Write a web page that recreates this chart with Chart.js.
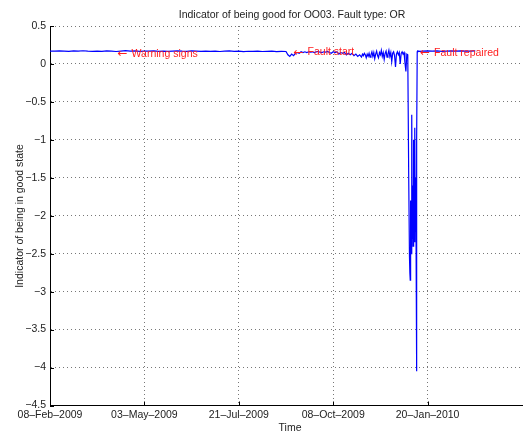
<!DOCTYPE html>
<html>
<head>
<meta charset="utf-8">
<script src="https://cdn.jsdelivr.net/npm/chart.js@4"></script>
<style>
  html, body { margin: 0; padding: 0; background: #fff; overflow: hidden; }
  canvas { display: block; }
</style>
</head>
<body>
<canvas id="graph1" width="525" height="437"></canvas>
<script>
// tick labels of the time axis (one per unit on x)
var xTickLabels = ["08\u2013Feb\u20132009", "03\u2013May\u20132009", "21\u2013Jul\u20132009", "08\u2013Oct\u20132009", "20\u2013Jan\u20132010"];

// time position (in tick units) and indicator value
var timeIdx = [
  0,0.05,0.1,0.15,0.2,0.25,0.3,0.35,0.4,0.45,0.5,0.55,0.6,0.65,0.7,0.75,0.8,0.85,0.9,0.95,
  1,1.05,1.1,1.15,1.2,1.25,1.3,1.35,1.4,1.45,1.5,1.55,1.6,1.65,1.7,1.75,1.8,1.85,1.9,1.95,
  2,2.05,2.1,2.15,2.2,2.25,2.3,2.35,2.4,2.45,2.5,
  2.52,2.54,2.56,2.58,2.6,2.62,2.64,2.66,2.68,2.7,2.72,2.74,2.76,2.78,2.8,2.82,2.84,2.86,2.88,2.9,
  2.92,2.94,2.96,2.98,3,3.02,3.04,3.06,3.08,3.1,3.12,3.14,3.16,3.18,3.2,3.22,3.24,3.26,3.28,
  3.3,3.31,3.32,3.33,3.34,3.35,3.36,3.37,3.38,3.39,3.4,3.41,3.42,3.43,3.44,3.45,3.46,3.47,3.48,3.49,
  3.5,3.51,3.52,3.53,3.54,3.55,3.56,3.57,3.58,3.59,3.6,3.61,3.62,3.63,3.64,3.65,3.66,3.67,3.68,3.69,
  3.7,3.71,3.72,3.73,3.74,3.75,3.76,3.77,3.78,3.79,
  3.8,3.808,3.812,3.816,3.818,3.822,3.826,3.83,3.834,3.838,3.842,3.846,3.85,3.854,3.858,3.862,
  3.866,3.87,3.874,3.878,3.882,3.886,3.89,3.894,
  3.92,3.95,4,4.05,4.1,4.15,4.2,4.25,4.3,4.35,4.4,4.45,4.505
];
var indicator = [
  0.17,0.168,0.172,0.17,0.166,0.171,0.169,0.174,0.168,0.165,0.17,0.167,0.172,0.169,0.164,0.17,0.175,0.168,0.171,0.166,
  0.17,0.168,0.173,0.167,0.17,0.165,0.169,0.172,0.168,0.166,0.171,0.168,0.165,0.17,0.167,0.169,0.164,0.168,0.171,0.166,
  0.168,0.163,0.167,0.165,0.169,0.164,0.166,0.168,0.163,0.166,0.164,
  0.12,0.10,0.13,0.11,0.14,0.15,0.14,0.16,0.15,0.16,0.15,0.16,0.155,0.16,0.15,0.16,0.165,0.155,0.15,0.16,
  0.155,0.165,0.15,0.14,0.16,0.15,0.16,0.13,0.15,0.14,0.15,0.12,0.14,0.12,0.14,0.11,0.13,0.10,0.12,
  0.09,0.13,0.11,0.14,0.12,0.08,0.13,0.10,0.14,0.09,0.12,0.16,0.10,0.15,0.07,0.13,0.17,0.11,0.08,0.15,
  0.12,0.18,0.10,0.15,0.06,0.14,0.17,0.09,0.13,0.18,0.10,0.15,0.03,0.14,0.16,0.11,-0.04,0.13,0.16,0.12,
  0.15,0.00,0.14,0.16,0.13,0.15,0.02,-0.10,0.13,0.12,
  -1.5,-2.54,-2.75,-2.85,-2.4,-1.8,-2.5,-0.9,-0.67,-2.3,-1.6,-2.4,-1.0,-2.3,-1.8,-2.35,
  -0.84,-2.2,-1.5,-2.4,-4.05,-1.0,0.16,0.17,
  0.165,0.17,0.172,0.168,0.171,0.167,0.17,0.173,0.169,0.171,0.168,0.17,0.171
];

// red text notes: arrow tip position and text
var noteX = [0.716, 2.58, 3.92];
var noteY = [0.13, 0.15, 0.14];
var noteText = ["Warning signs", "Fault start", "Fault repaired"];

var points = [];
for (let i = 0; i < timeIdx.length; i++) {
  points.push({ x: timeIdx[i], y: indicator[i] });
}

var FONT = "'Liberation Sans', Arial, Helvetica, sans-serif";

// titles, notes and inner tick marks
var extrasPlugin = {
  id: "extras",
  afterDraw(chart) {
    const ctx = chart.ctx;
    const xs = chart.scales.x, ys = chart.scales.y;
    const area = chart.chartArea;
    ctx.save();

    // inner tick marks
    ctx.strokeStyle = "#000";
    ctx.lineWidth = 1;
    ctx.beginPath();
    for (let v = 0; v <= 4; v++) {
      let px = Math.round(xs.getPixelForValue(v)) + 0.5;
      ctx.moveTo(px, area.bottom);
      ctx.lineTo(px, area.bottom - 4);
    }
    for (let v = -4.5; v <= 0.5; v += 0.5) {
      let py = Math.round(ys.getPixelForValue(v)) + 0.5;
      ctx.moveTo(area.left, py);
      ctx.lineTo(area.left + 4, py);
    }
    ctx.stroke();

    // notes (arrow + text)
    ctx.fillStyle = "rgb(255,30,30)";
    ctx.textAlign = "left";
    ctx.textBaseline = "middle";
    for (let i = 0; i < noteText.length; i++) {
      let px = xs.getPixelForValue(noteX[i]);
      let py = ys.getPixelForValue(noteY[i]);
      ctx.font = "12px 'DejaVu Sans'";
      ctx.fillText("\u2190", px, py);
      ctx.font = "10.5px " + FONT;
      ctx.fillText(noteText[i], px + 14, py);
    }

    // title and axis labels
    ctx.fillStyle = "#222";
    ctx.font = "10.5px " + FONT;
    ctx.textAlign = "center";
    ctx.fillText("Indicator of being good for OO03. Fault type: OR", 292, 15);
    ctx.fillText("Time", 290, 428);
    ctx.translate(20, 216);
    ctx.rotate(-Math.PI / 2);
    ctx.fillText("Indicator of being in good state", 0, 0);
    ctx.restore();
  }
};

var ctx = document.getElementById("graph1").getContext("2d");
const myChart = new Chart(ctx, {
  type: "line",
  data: {
    datasets: [{
      data: points,
      borderColor: "#0000ff",
      borderWidth: 1.2,
      pointRadius: 0,
      tension: 0,
      fill: false
    }]
  },
  options: {
    responsive: false,
    animation: false,
    devicePixelRatio: 1,
    layout: { padding: { top: 26, left: 0, right: 1, bottom: 0 } },
    plugins: {
      legend: { display: false },
      title: { display: false },
      tooltip: { enabled: false }
    },
    scales: {
      x: {
        type: "linear",
        min: 0,
        max: 5,
        afterFit: function(scale) { scale.height = 31.5; },
        afterBuildTicks: function(scale) {
          scale.ticks = [0, 1, 2, 3, 4, 5].map(v => ({ value: v }));
        },
        ticks: {
          autoSkip: false,
          maxRotation: 0,
          padding: 3,
          color: "#222",
          font: { family: FONT, size: 10.5 },
          callback: function(v) { return xTickLabels[v] || ""; }
        },
        grid: {
          drawTicks: false,
          color: function(c) { return (c.tick && c.tick.value > 0 && c.tick.value < 5) ? "#777" : "rgba(0,0,0,0)"; },
          lineWidth: 1
        },
        border: { display: true, color: "#000", width: 1, dash: [1, 3] }
      },
      y: {
        type: "linear",
        min: -4.5,
        max: 0.5,
        afterFit: function(scale) { scale.width = 50; },
        ticks: {
          stepSize: 0.5,
          padding: 4,
          color: "#222",
          font: { family: FONT, size: 10.5 },
          callback: function(v) { return String(v).replace("-", "\u2212"); }
        },
        grid: {
          drawTicks: false,
          color: function(c) { return (c.tick && c.tick.value > -4.5) ? "#777" : "rgba(0,0,0,0)"; },
          lineWidth: 1
        },
        border: { display: true, color: "#000", width: 1, dash: [1, 3] }
      }
    }
  },
  plugins: [extrasPlugin]
});
</script>
</body>
</html>
